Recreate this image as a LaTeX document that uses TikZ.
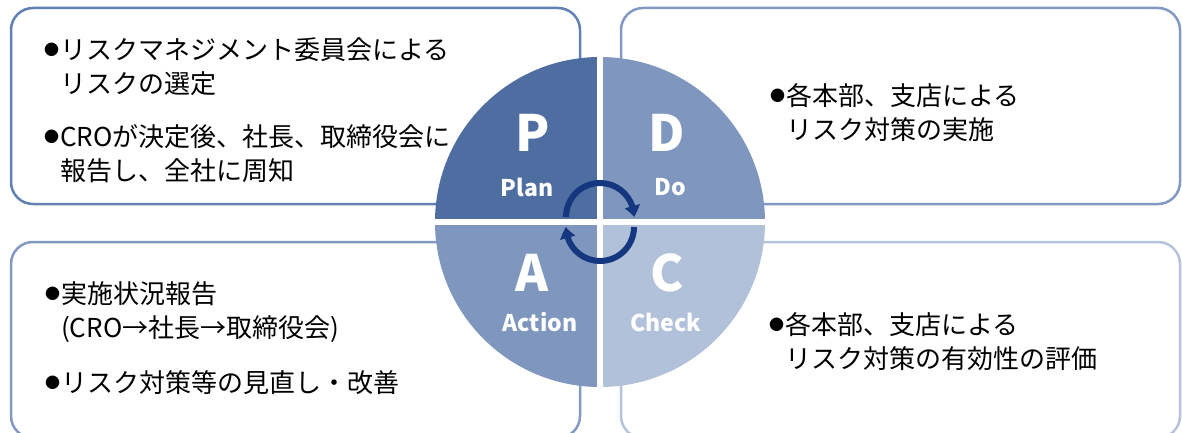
\documentclass[tikz,border=0pt]{standalone}
\usepackage{fontspec}
\setmainfont{Noto Sans CJK JP}
\usetikzlibrary{arrows.meta,bending}

\definecolor{planblue}{HTML}{4E6EA2}
\definecolor{doblue}{HTML}{7F97BF}
\definecolor{checkblue}{HTML}{B2C1DA}
\definecolor{planedge}{HTML}{6180B3}
\definecolor{doedge}{HTML}{8299C1}
\definecolor{checkedge}{HTML}{B5C3DB}
\definecolor{cyclenavy}{HTML}{14377F}

\newcommand{\bul}{\leavevmode\llap{\raisebox{4pt}{\fontsize{15}{15}\selectfont ●}\hspace{1pt}}}

\begin{document}
\begin{tikzpicture}[x=1pt, y=1pt,
    quad_box/.style={draw, line width=2.5pt, rounded corners=22pt, minimum height=196pt, inner sep=0pt},
    body_text/.style={anchor=west, align=left, inner sep=0pt, font=\fontsize{26}{34}\selectfont},
    quad_letter/.style={text=white, inner sep=0pt, font=\fontsize{50}{50}\selectfont\bfseries},
    quad_label/.style={text=white, inner sep=0pt, font=\fontsize{23}{23}\selectfont\bfseries},
    gap_line/.style={white, line width=6pt},
    cycle_arrow/.style={cyclenavy, line width=6pt, -{Triangle[length=11pt, width=15pt, bend]}}]
        \useasboundingbox (0,0) rectangle (1182,-433);

        % Four surrounding frames
        \node[quad_box, draw=planedge, minimum width=569pt] (plan_box) at (295.5,-106) {};
        \node[quad_box, draw=doedge, minimum width=559pt] (do_box) at (900.5,-106) {};
        \node[quad_box, draw=doedge, minimum width=569pt] (action_box) at (295.5,-340) {};
        \node[quad_box, draw=checkedge, minimum width=559pt] (check_box) at (900.5,-340) {};

        % Centre of the PDCA disc
        \coordinate (hub) at (600,-222);
        \coordinate (hub_w) at (435,-222);
        \coordinate (hub_e) at (765,-222);
        \coordinate (hub_n) at (600,-57);
        \coordinate (hub_s) at (600,-387);

        % Quarters of the disc
        \fill[planblue] (hub) -- ++(-165,0) arc[start angle=180, end angle=90, radius=165] -- cycle;
        \fill[doblue] (hub) -- ++(0,165) arc[start angle=90, end angle=0, radius=165] -- cycle;
        \fill[checkblue] (hub) -- ++(165,0) arc[start angle=0, end angle=-90, radius=165] -- cycle;
        \fill[doblue] (hub) -- ++(0,-165) arc[start angle=-90, end angle=-180, radius=165] -- cycle;

        % White gaps between the quarters
        \draw[gap_line] (hub_w) -- (hub_e);
        \draw[gap_line] (hub_n) -- (hub_s);

        % Turning arrows in the middle
        \coordinate (upper_turn) at (600,-217);
        \coordinate (lower_turn) at (600,-227);
        \draw[cycle_arrow] ([shift={(180:34)}]upper_turn) arc[start angle=180, end angle=0, radius=34];
        \draw[cycle_arrow] ([shift={(0:34)}]lower_turn) arc[start angle=0, end angle=-180, radius=34];

        % Letters of the quarters
        \node[quad_letter] (p_letter) at ([shift={(-67,89)}]hub) {P};
        \node[quad_label] (p_label) at ([shift={(-73,35)}]hub) {Plan};
        \node[quad_letter] (d_letter) at ([shift={(67,89)}]hub) {D};
        \node[quad_label] (d_label) at ([shift={(70,35)}]hub) {Do};
        \node[quad_letter] (a_letter) at ([shift={(-68,-51)}]hub) {A};
        \node[quad_label] (a_label) at ([shift={(-60,-100)}]hub) {Action};
        \node[quad_letter] (c_letter) at ([shift={(67,-51)}]hub) {C};
        \node[quad_label] (c_label) at ([shift={(66,-100)}]hub) {Check};

        % Texts in the frames
        \node[body_text] (plan_first) at (60,-66.5) {\bul リスクマネジメント委員会による\\リスクの選定};
        \node[body_text] (plan_second) at (60,-154) {\bul CROが決定後、社長、取締役会に\\報告し、全社に周知};
        \node[body_text] (do_text) at (786,-112.5) {\bul 各本部、支店による\\リスク対策の実施};
        \node[body_text] (action_first) at (61,-312.5) {\bul 実施状況報告\\(CRO→社長→取締役会)};
        \node[body_text] (action_second) at (61,-383) {\bul リスク対策等の見直し・改善};
        \node[body_text] (check_text) at (785,-341.5) {\bul 各本部、支店による\\リスク対策の有効性の評価};
      \end{tikzpicture}
\end{document}
